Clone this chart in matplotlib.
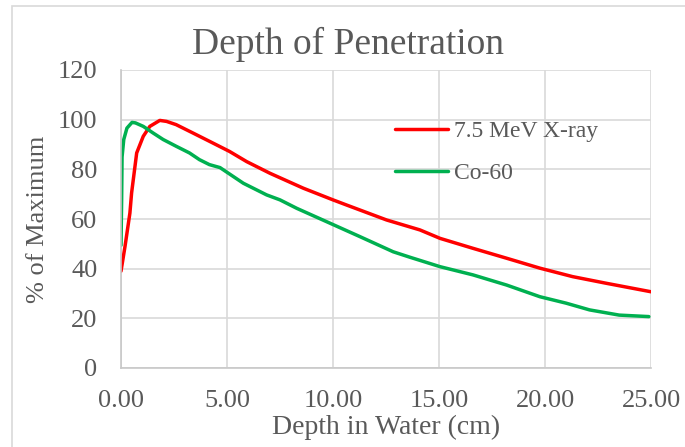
import matplotlib
matplotlib.use("Agg")
import matplotlib.pyplot as plt
from matplotlib.patches import Rectangle

# 7.5 MeV X-ray depth dose (cm, % of max)
xray_depth = [0.0, 0.19, 0.42, 0.5, 0.74, 1.05, 1.36, 1.83, 2.15, 2.6, 3.4, 4.17,
              5.12, 5.93, 7.03, 8.6, 10.0, 10.65, 12.53, 14.1, 15.05, 16.6, 18.19,
              19.76, 21.3, 22.9, 25.0]
xray_pct = [39, 49, 62.4, 70.5, 86.6, 93.3, 97.3, 99.7, 99.3, 98, 94.6, 91.3,
            87.2, 83.1, 78.4, 72.4, 67.7, 65.6, 59.6, 55.6, 52.2, 48.2, 44.2,
            40.2, 36.8, 34.1, 30.7]

# Co-60 depth dose
co_depth = [0.0, 0.03, 0.05, 0.13, 0.28, 0.52, 0.68, 1.05, 1.52, 1.99, 2.6, 3.23,
            3.7, 4.17, 4.67, 5.77, 6.87, 7.5, 8.29, 9.86, 11.27, 12.84, 13.63,
            15.05, 16.6, 18.19, 19.76, 21.0, 22.1, 23.5, 24.9]
co_pct = [49.4, 67.8, 85, 92, 96.6, 98.9, 98.7, 97.3, 94.6, 92, 89.3, 86.6,
          83.9, 81.9, 80.7, 74.4, 69.7, 67.7, 64.3, 58.3, 52.9, 46.8, 44.6,
          40.8, 37.5, 33.4, 28.7, 26.1, 23.4, 21.3, 20.7]

x_ticks = [0, 5, 10, 15, 20, 25]
y_ticks = [0, 20, 40, 60, 80, 100, 120]

txt = "#595959"
grid = "#d9d9d9"
plt.rcParams['font.family'] = ['Liberation Serif', 'DejaVu Serif']

fig = plt.figure(figsize=(6.85, 4.47), dpi=100)
ax = fig.add_axes([121/685, 1-368/447, 530/685, 298/447])

ax.plot(xray_depth, xray_pct, color="#ff0000", lw=2.5, label="7.5 MeV X-ray",
        solid_capstyle="round")
ax.plot(co_depth, co_pct, color="#00b050", lw=2.5, label="Co-60",
        solid_capstyle="round")

ax.set_xlim(0, 25)
ax.set_ylim(0, 120)
ax.set_xticks(x_ticks)
ax.set_xticklabels([f"{t:.2f}" for t in x_ticks])
ax.set_yticks(y_ticks)
ax.grid(True, color=grid, lw=1.2)
ax.set_axisbelow(True)
for s in ["top", "right"]:
    ax.spines[s].set_visible(False)
for s in ["left", "bottom"]:
    ax.spines[s].set_color("#c8c8c8")
    ax.spines[s].set_linewidth(1.2)
ax.tick_params(length=0, labelsize=19, labelcolor=txt)
ax.tick_params(axis="x", pad=16)
ax.tick_params(axis="y", pad=17)

ax.set_xlabel("Depth in Water (cm)", fontsize=20, color=txt, labelpad=2)
ax.set_ylabel("% of Maximum", fontsize=19, color=txt, labelpad=6)
fig.text(348/685, 1-44/447, "Depth of Penetration", fontsize=27, color=txt,
         ha="center", va="center")

leg = ax.legend(loc="upper left", bbox_to_anchor=(0.517, 0.83), frameon=False,
                fontsize=17, handlelength=2.25, labelspacing=0.87,
                handletextpad=0.25, borderpad=0, borderaxespad=0)
for t in leg.get_texts():
    t.set_color(txt)

fig.add_artist(Rectangle((12/685, -0.5), 2, 0.5 + (1 - 5.5/447),
                         transform=fig.transFigure, fill=False,
                         edgecolor=grid, lw=1.2))

fig.savefig("out.png", dpi=100)
